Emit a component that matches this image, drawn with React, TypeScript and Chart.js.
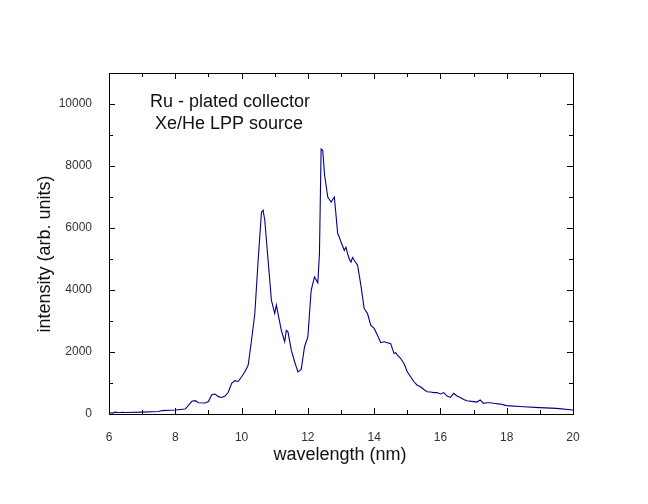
import React, { useEffect, useRef } from "react";
import { Chart, registerables } from "chart.js";

Chart.register(...registerables);

const wavelength = [
  6.0, 6.1, 6.2, 6.3, 6.4, 6.5, 7.0, 7.5, 7.6, 8.0, 8.3, 8.5, 8.6, 8.7, 8.9, 9.0, 9.1, 9.2, 9.3, 9.4,
  9.5, 9.6, 9.7, 9.8, 9.9, 10.0, 10.1, 10.2, 10.3, 10.4, 10.5, 10.6, 10.65, 10.7, 10.8, 10.9, 11.0, 11.05, 11.1, 11.2,
  11.3, 11.35, 11.4, 11.5, 11.6, 11.7, 11.8, 11.9, 12.0, 12.1, 12.2, 12.3, 12.35, 12.4, 12.45, 12.5, 12.6, 12.7, 12.8, 12.9,
  12.95, 13.0, 13.1, 13.15, 13.2, 13.25, 13.3, 13.35, 13.4, 13.5, 13.6, 13.7, 13.8, 13.9, 14.0, 14.1, 14.2, 14.3, 14.4, 14.5,
  14.6, 14.65, 14.7, 14.75, 14.8, 14.9, 15.0, 15.1, 15.2, 15.3, 15.4, 15.5, 15.6, 15.7, 15.8, 15.9, 16.0, 16.1, 16.2, 16.3,
  16.4, 16.5, 16.6, 16.7, 16.8, 17.0, 17.1, 17.2, 17.3, 17.4, 17.5, 17.6, 17.8, 18.0, 18.5, 19.0, 19.5, 20.0,
];

const intensity = [
  40, 30, 60, 40, 55, 50, 60, 80, 110, 130, 160, 410, 430, 365, 355, 400, 620, 645, 560, 535,
  580, 700, 990, 1075, 1050, 1200, 1360, 1580, 2380, 3240, 4960, 6510, 6570, 6250, 4960, 3670, 3240, 3510, 3240, 2700,
  2330, 2700, 2650, 2060, 1685, 1360, 1440, 2170, 2490, 3990, 4420, 4230, 5170, 8550, 8500, 7750, 7000, 6840, 7000, 5820,
  5700, 5550, 5280, 5380, 5170, 5000, 4900, 5050, 4960, 4800, 4150, 3400, 3240, 2860, 2760, 2540, 2300, 2330, 2300, 2270,
  1950, 1980, 1900, 1850, 1790, 1630, 1360, 1200, 1040, 930, 880, 790, 720, 710, 690, 690, 645, 690, 580, 535,
  665, 580, 535, 470, 430, 400, 385, 450, 345, 365, 365, 345, 320, 270, 235, 205, 180, 130,
];

const xTickLabels = ["6", "8", "10", "12", "14", "16", "18", "20"];
const yTickLabels = ["0", "2000", "4000", "6000", "8000", "10000"];
const annotationLines = ["Ru - plated collector", " Xe/He LPP source"];
const xTitle = "wavelength (nm)";
const yTitle = "intensity (arb. units)";

const FONT = "'Liberation Sans', Arial, sans-serif";

const framePlugin = {
  id: "frameTicks",
  afterDraw(chart: any) {
    const { ctx, chartArea } = chart;
    const { left, right, top, bottom } = chartArea;
    const xs = chart.scales.x;
    const ys = chart.scales.y;
    ctx.save();
    ctx.strokeStyle = "#000";
    ctx.lineWidth = 1;
    ctx.strokeRect(Math.round(left) + 0.5, Math.round(top) + 0.5, Math.round(right - left), Math.round(bottom - top));
    ctx.beginPath();
    xs.ticks.forEach((t: any) => {
      const px = Math.round(xs.getPixelForValue(t.value)) + 0.5;
      const major = xTickLabels.includes(String(t.value));
      const len = major ? 6 : 4;
      ctx.moveTo(px, bottom);
      ctx.lineTo(px, bottom - len);
      ctx.moveTo(px, top);
      ctx.lineTo(px, top + len);
    });
    ys.ticks.forEach((t: any) => {
      const py = Math.round(ys.getPixelForValue(t.value)) + 0.5;
      const major = yTickLabels.includes(String(t.value));
      const len = major ? 6 : 4;
      ctx.moveTo(left, py);
      ctx.lineTo(left + len, py);
      ctx.moveTo(right, py);
      ctx.lineTo(right - len, py);
    });
    ctx.stroke();

    ctx.fillStyle = "#111";
    ctx.font = `18px ${FONT}`;
    ctx.textBaseline = "middle";
    ctx.textAlign = "left";
    ctx.fillText(annotationLines[0], 150, 102);
    ctx.fillText(annotationLines[1], 150, 124);

    ctx.textAlign = "center";
    ctx.fillText(xTitle, 340, 455);

    ctx.translate(45, 254);
    ctx.rotate(-Math.PI / 2);
    ctx.fillText(yTitle, 0, 0);
    ctx.restore();
  },
};

export default function App() {
  const ref = useRef<HTMLCanvasElement | null>(null);
  useEffect(() => {
    if (!ref.current) return;
    const data = wavelength.map((x, i) => ({ x, y: intensity[i] }));
    const chart = new Chart(ref.current, {
      type: "line",
      data: {
        datasets: [
          {
            data,
            borderColor: "#00008c",
            borderWidth: 1.1,
            pointRadius: 0,
            tension: 0,
            fill: false,
          },
        ],
      },
      options: {
        animation: false,
        responsive: false,
        devicePixelRatio: 1,
        layout: { padding: { top: 73, right: 75, left: 0, bottom: 0 } },
        plugins: { legend: { display: false }, tooltip: { enabled: false } },
        scales: {
          x: {
            type: "linear",
            min: 6,
            max: 20,
            grid: { display: false },
            border: { display: false },
            afterFit: (s: any) => {
              s.height = 90;
            },
            ticks: {
              stepSize: 1,
              autoSkip: false,
              maxRotation: 0,
              padding: 8,
              color: "#333",
              font: { family: FONT, size: 12 },
              callback: (v: any) => (xTickLabels.includes(String(v)) ? String(v) : ""),
            },
          },
          y: {
            type: "linear",
            min: 0,
            max: 11000,
            grid: { display: false },
            border: { display: false },
            afterFit: (s: any) => {
              s.width = 109;
            },
            ticks: {
              stepSize: 1000,
              autoSkip: false,
              padding: 9,
              color: "#333",
              font: { family: FONT, size: 12 },
              callback: (v: any) => (yTickLabels.includes(String(v)) ? String(v) : ""),
            },
          },
        },
      },
      plugins: [framePlugin],
    });
    return () => chart.destroy();
  }, []);
  return (
    <div style={{ position: "absolute", left: 0, top: 0, width: 648, height: 504, background: "#fff" }}>
      <canvas ref={ref} width={648} height={504} />
    </div>
  );
}
